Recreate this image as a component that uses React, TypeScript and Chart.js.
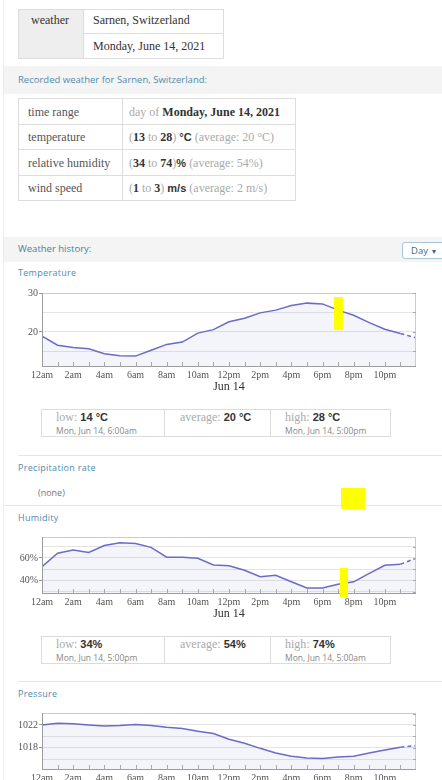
import React, { useEffect, useRef } from "react";
import { Chart, registerables } from "chart.js";

Chart.register(...registerables);

// ---------- data ----------
const hours = [0, 1, 2, 3, 4, 5, 6, 7, 8, 9, 10, 11, 12, 13, 14, 15, 16, 17, 18, 19, 20, 21, 22, 23, 24];
const hourLabels = ["12am", "", "2am", "", "4am", "", "6am", "", "8am", "", "10am", "", "12pm", "", "2pm", "", "4pm", "", "6pm", "", "8pm", "", "10pm", "", ""];
const dateLabel = "Jun 14";

const temperature = [18.9, 16.6, 16.0, 15.7, 14.4, 13.9, 13.8, 15.3, 16.8, 17.4, 19.7, 20.6, 22.6, 23.5, 24.9, 25.6, 26.8, 27.4, 27.2, 25.6, 24.3, 22.4, 20.7, 19.6, 18.5];
const tempGrid = [15, 20, 25, 30];
const tempLabels = [20, 30];

const humidity = [52.2, 64.2, 66.9, 64.8, 71.0, 73.4, 72.8, 69.3, 60.6, 60.6, 59.7, 53.7, 53.1, 49.0, 43.3, 44.5, 38.8, 33.4, 33.4, 36.7, 38.8, 46.3, 53.4, 54.3, 59.7];
const humGrid = [30, 40, 50, 60, 70];
const humLabels = [40, 60];

const pressure = [1022.0, 1022.3, 1022.2, 1022.0, 1021.8, 1021.9, 1022.1, 1021.9, 1021.6, 1021.4, 1020.9, 1020.5, 1019.5, 1018.8, 1017.9, 1017.1, 1016.5, 1016.2, 1016.1, 1016.4, 1016.5, 1017.1, 1017.6, 1018.1, 1018.4];
const presGrid = [1016, 1018, 1020, 1022, 1024];
const presLabels = [1018, 1022];

// ---------- styles ----------
const SERIF = "'Liberation Serif', 'Times New Roman', serif";
const SANS = "'Open Sans', 'Noto Sans', sans-serif";
const LINK = "#4f8cab";
const LINE = "#6b6bc9";

const framePlugin = {
  id: "frame",
  afterDraw(chart: any) {
    const { ctx, chartArea: a, scales } = chart;
    const x = scales.x;
    const y = scales.y;
    ctx.save();
    ctx.lineWidth = 1;
    ctx.strokeStyle = "#cccccc";
    ctx.beginPath();
    ctx.moveTo(a.left, Math.round(a.top) + 0.5);
    ctx.lineTo(a.right, Math.round(a.top) + 0.5);
    ctx.moveTo(Math.round(a.right) - 0.5, a.top);
    ctx.lineTo(Math.round(a.right) - 0.5, a.bottom);
    ctx.stroke();
    ctx.strokeStyle = "#9c9c9c";
    ctx.beginPath();
    ctx.moveTo(Math.round(a.left) + 0.5, a.top);
    ctx.lineTo(Math.round(a.left) + 0.5, a.bottom);
    ctx.moveTo(a.left, Math.round(a.bottom) - 0.5);
    ctx.lineTo(a.right, Math.round(a.bottom) - 0.5);
    ctx.stroke();
    ctx.strokeStyle = "#a8a8a8";
    ctx.beginPath();
    x.ticks.forEach((t: any) => {
      if (t.value <= 0 || t.value >= 24) return;
      const px = Math.round(x.getPixelForValue(t.value)) + 0.5;
      ctx.moveTo(px, a.bottom);
      ctx.lineTo(px, a.bottom - 5);
    });
    y.ticks.forEach((t: any) => {
      const py = Math.round(y.getPixelForValue(t.value)) + 0.5;
      ctx.moveTo(a.right, py);
      ctx.lineTo(a.right - 3, py);
    });
    ctx.stroke();
    ctx.restore();
  },
};

type LCProps = {
  values: number[];
  yMin: number;
  yMax: number;
  grid: number[];
  labels: number[];
  suffix: string;
  left: number;
  top: number;
  width: number;
  height: number;
};

function LineChart({ values, yMin, yMax, grid, labels, suffix, left, top, width, height }: LCProps) {
  const ref = useRef<HTMLCanvasElement>(null);
  useEffect(() => {
    const last = values.length - 1;
    const pts = values.map((v, i) => ({ x: hours[i], y: v }));
    const chart = new Chart(ref.current as HTMLCanvasElement, {
      type: "line",
      data: {
        datasets: [
          {
            // filled area under the whole series
            data: pts,
            borderWidth: 0,
            borderColor: "rgba(0,0,0,0)",
            backgroundColor: "rgba(110,110,200,0.08)",
            fill: "start",
            pointRadius: 0,
            tension: 0,
          },
          {
            // recorded part: solid line
            data: pts.slice(0, last),
            borderColor: LINE,
            borderWidth: 1.5,
            fill: false,
            pointRadius: 0,
            tension: 0,
          },
          {
            // last segment: dashed
            data: pts.slice(last - 1),
            borderColor: LINE,
            borderWidth: 1.5,
            borderDash: [4, 3],
            fill: false,
            pointRadius: 0,
            tension: 0,
          },
        ] as any,
      },
      options: {
        responsive: false,
        animation: false,
        maintainAspectRatio: false,
        layout: { padding: { top: 7, right: 8, left: 0, bottom: 0 } },
        plugins: { legend: { display: false }, tooltip: { enabled: false } },
        scales: {
          x: {
            type: "linear",
            min: 0,
            max: 24,
            afterBuildTicks: (s: any) => {
              s.ticks = hours.map((h) => ({ value: h }));
            },
            ticks: {
              autoSkip: false,
              maxRotation: 0,
              padding: 2,
              color: "#555",
              font: { family: SERIF, size: 10 },
              callback: (v: any) => hourLabels[hours.indexOf(Number(v))] ?? "",
            },
            grid: { display: false, drawTicks: false },
            border: { display: false },
            title: {
              display: true,
              text: dateLabel,
              color: "#333",
              font: { family: SERIF, size: 12 },
              padding: { top: 0, bottom: 3 },
            },
            afterFit: (s: any) => {
              s.height = 30;
            },
          },
          y: {
            type: "linear",
            min: yMin,
            max: yMax,
            afterBuildTicks: (s: any) => {
              s.ticks = grid.map((g) => ({ value: g }));
            },
            ticks: {
              autoSkip: false,
              padding: 1,
              color: "#555",
              font: { family: SERIF, size: 10 },
              callback: (v: any) => (labels.includes(Number(v)) ? `${v}${suffix}` : ""),
            },
            grid: {
              color: "#e4e4e4",
              tickLength: 3,
              tickColor: (c: any) => (c.tick && labels.includes(c.tick.value) ? "#999" : "rgba(0,0,0,0)"),
            },
            border: { display: false },
            afterFit: (s: any) => {
              s.width = 25;
            },
          },
        },
      } as any,
      plugins: [framePlugin],
    });
    return () => chart.destroy();
  }, []);
  return <canvas ref={ref} width={width} height={height} style={{ position: "absolute", left, top, width, height }} />;
}

const T = ({ x, y, children, s }: { x: number; y: number; children: React.ReactNode; s?: React.CSSProperties }) => (
  <div style={{ position: "absolute", left: x, top: y, whiteSpace: "nowrap", ...s }}>{children}</div>
);

const Box = ({ x, y, w, h, s }: { x: number; y: number; w: number; h: number; s?: React.CSSProperties }) => (
  <div style={{ position: "absolute", left: x, top: y, width: w, height: h, boxSizing: "border-box", ...s }} />
);

const serif12: React.CSSProperties = { fontFamily: SERIF, fontSize: 12, lineHeight: "14px", color: "#333" };
const label12: React.CSSProperties = { fontFamily: SERIF, fontSize: 12, lineHeight: "14px", color: "#555" };
const gray: React.CSSProperties = { color: "#aaa" };
const bold: React.CSSProperties = { fontWeight: "bold", color: "#333" };
const boldSans: React.CSSProperties = { fontFamily: "'Liberation Sans', Arial, sans-serif", fontWeight: "bold", fontSize: 11, color: "#333" };
const section: React.CSSProperties = { fontFamily: SANS, fontSize: 9, lineHeight: "12px", color: LINK, letterSpacing: 0.3 };
const subText: React.CSSProperties = { fontFamily: SANS, fontSize: 8.5, lineHeight: "11px", color: "#888" };

function Stats({ y, low, avg, high, lowTime, highTime }: { y: number; low: string; avg: string; high: string; lowTime: string; highTime: string }) {
  const statLine = { fontFamily: SERIF, fontSize: 12, lineHeight: "14px", color: "#aaa" };
  return (
    <>
      <Box x={41} y={y} w={350} h={28} s={{ border: "1px solid #dcdcdc" }} />
      <Box x={164} y={y} w={1} h={28} s={{ background: "#dcdcdc" }} />
      <Box x={270} y={y} w={1} h={28} s={{ background: "#dcdcdc" }} />
      <T x={56} y={y + 1} s={statLine}>
        low: <span style={boldSans}>{low}</span>
      </T>
      <T x={56} y={y + 16} s={subText}>{lowTime}</T>
      <T x={180} y={y + 1} s={statLine}>
        average: <span style={boldSans}>{avg}</span>
      </T>
      <T x={285} y={y + 1} s={statLine}>
        high: <span style={boldSans}>{high}</span>
      </T>
      <T x={285} y={y + 16} s={subText}>{highTime}</T>
    </>
  );
}

export default function App() {
  return (
    <div style={{ position: "fixed", left: 0, top: 0, width: 442, height: 780, overflow: "hidden", background: "#fff" }}>
      <Box x={3} y={0} w={1} h={780} s={{ background: "#eeeeee" }} />

      {/* header table */}
      <Box x={18} y={9} w={65} h={50} s={{ background: "#eeeeee" }} />
      <Box x={18} y={9} w={206} h={50} s={{ border: "1px solid #dddddd" }} />
      <Box x={83} y={9} w={1} h={50} s={{ background: "#dddddd" }} />
      <Box x={83} y={33} w={141} h={1} s={{ background: "#dddddd" }} />
      <T x={31} y={13} s={serif12}>weather</T>
      <T x={93} y={13} s={serif12}>Sarnen, Switzerland</T>
      <T x={93} y={39} s={serif12}>Monday, June 14, 2021</T>

      {/* band 1 */}
      <Box x={4} y={66} w={438} h={28} s={{ background: "#f4f4f4" }} />
      <T x={18} y={73} s={{ fontFamily: SANS, fontSize: 9.5, lineHeight: "14px", color: LINK }}>Recorded weather for Sarnen, Switzerland:</T>

      {/* details table */}
      <Box x={18} y={98} w={278} h={103} s={{ border: "1px solid #dddddd" }} />
      <Box x={122} y={98} w={1} h={103} s={{ background: "#dddddd" }} />
      <Box x={18} y={124} w={278} h={1} s={{ background: "#dddddd" }} />
      <Box x={18} y={149} w={278} h={1} s={{ background: "#dddddd" }} />
      <Box x={18} y={175} w={278} h={1} s={{ background: "#dddddd" }} />
      <T x={28} y={105} s={label12}>time range</T>
      <T x={28} y={130} s={label12}>temperature</T>
      <T x={28} y={156} s={label12}>relative humidity</T>
      <T x={28} y={181} s={label12}>wind speed</T>
      <T x={129} y={105} s={label12}>
        <span style={gray}>day of </span>
        <span style={bold}>Monday, June 14, 2021</span>
      </T>
      <T x={129} y={130} s={label12}>
        <span style={gray}>(</span>
        <span style={bold}>13</span>
        <span style={gray}> to </span>
        <span style={bold}>28</span>
        <span style={gray}>) </span>
        <span style={boldSans}>°C</span>
        <span style={gray}> (average: 20 °C)</span>
      </T>
      <T x={129} y={156} s={label12}>
        <span style={gray}>(</span>
        <span style={bold}>34</span>
        <span style={gray}> to </span>
        <span style={bold}>74</span>
        <span style={gray}>)</span>
        <span style={boldSans}>%</span>
        <span style={gray}> (average: 54%)</span>
      </T>
      <T x={129} y={181} s={label12}>
        <span style={gray}>(</span>
        <span style={bold}>1</span>
        <span style={gray}> to </span>
        <span style={bold}>3</span>
        <span style={gray}>) </span>
        <span style={boldSans}>m/s</span>
        <span style={gray}> (average: 2 m/s)</span>
      </T>

      {/* band 2 */}
      <Box x={4} y={237} w={438} h={25} s={{ background: "#f4f4f4" }} />
      <T x={18} y={242} s={{ fontFamily: SANS, fontSize: 9.5, lineHeight: "14px", color: "#4a7f9c" }}>Weather history:</T>
      <div
        style={{
          position: "absolute",
          left: 402,
          top: 242,
          width: 50,
          height: 17,
          boxSizing: "border-box",
          border: "1px solid #a9c6db",
          borderRadius: 3,
          background: "#fff",
          fontFamily: SANS,
          fontSize: 9.5,
          lineHeight: "15px",
          color: "#3d6a88",
          paddingLeft: 8,
        }}
      >
        Day <span style={{ fontSize: 7 }}>▼</span>
      </div>

      {/* temperature */}
      <T x={18} y={267} s={section}>Temperature</T>
      <LineChart values={temperature} yMin={11} yMax={30} grid={tempGrid} labels={tempLabels} suffix="" left={17} top={286} width={407} height={111} />
      <Stats y={409} low="14 °C" avg="20 °C" high="28 °C" lowTime="Mon, Jun 14, 6:00am" highTime="Mon, Jun 14, 5:00pm" />

      <Box x={18} y={455} w={424} h={1} s={{ background: "#e6e6e6" }} />
      <T x={18} y={462} s={section}>Precipitation rate</T>
      <T x={38} y={487} s={{ fontFamily: SANS, fontSize: 9, lineHeight: "12px", color: "#777" }}>(none)</T>
      <Box x={4} y={505} w={438} h={1} s={{ background: "#e6e6e6" }} />

      {/* humidity */}
      <T x={18} y={512} s={section}>Humidity</T>
      <LineChart values={humidity} yMin={28} yMax={78.5} grid={humGrid} labels={humLabels} suffix="%" left={17} top={530} width={407} height={94} />
      <Stats y={636} low="34%" avg="54%" high="74%" lowTime="Mon, Jun 14, 5:00pm" highTime="Mon, Jun 14, 5:00am" />

      <Box x={18} y={681} w={424} h={1} s={{ background: "#e6e6e6" }} />

      {/* pressure */}
      <T x={18} y={688} s={section}>Pressure</T>
      <LineChart values={pressure} yMin={1014.1} yMax={1024.1} grid={presGrid} labels={presLabels} suffix="" left={17} top={706} width={407} height={94} />

      {/* highlight marks */}
      <Box x={334} y={297} w={9} h={33} s={{ background: "#ffff00" }} />
      <Box x={341} y={488} w={24} h={21} s={{ background: "#ffff00" }} />
      <Box x={340} y={568} w={8} h={29} s={{ background: "#ffff00" }} />
    </div>
  );
}
